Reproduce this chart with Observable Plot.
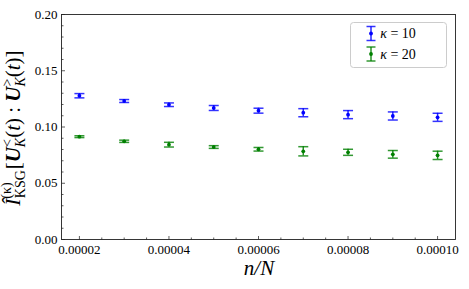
<!DOCTYPE html>
<html><head><meta charset="utf-8">
<script src="https://cdn.jsdelivr.net/npm/d3@7"></script>
<script src="https://cdn.jsdelivr.net/npm/@observablehq/plot@0.6"></script>
<style>
body{margin:0;background:#fff;}
</style></head><body><div id="chart"></div>
<script>
// ---- data ----
const ratios = [0.00002,0.00003,0.00004,0.00005,0.00006,0.00007,0.00008,0.00009,0.0001];
const mi10   = [0.1278,0.1231,0.1198,0.1169,0.1145,0.1127,0.1110,0.1098,0.1086];
const err10  = [0.0019,0.0013,0.0016,0.0022,0.0022,0.0036,0.0036,0.0036,0.0036];
const mi20   = [0.0914,0.0873,0.0843,0.0822,0.0802,0.0784,0.0775,0.0757,0.0748];
const err20  = [0.0008,0.0010,0.0021,0.0012,0.0016,0.0041,0.0027,0.0034,0.0037];
const kappas = ["10","20"];
const xTickValues = [0.00002,0.00004,0.00006,0.00008,0.0001];
const yTickValues = [0,0.05,0.10,0.15,0.20];
const xDomain = [0.000016,0.000104];
const yDomain = [0,0.2];

const xMinor = d3.range(0,17).map(i=>0.00002+i*0.000005);
const yMinor = d3.range(0,21).map(i=>i*0.01);

const rows = ratios.flatMap((r,i)=>[
  {x:r,y:mi10[i],e:err10[i],k:kappas[0]},
  {x:r,y:mi20[i],e:err20[i],k:kappas[1]}
]);

const FONT = "Liberation Serif";
const cap = {draw(ctx){ctx.moveTo(-5,0);ctx.lineTo(5,0);}};
const tickUp = (l)=>({draw(ctx){ctx.moveTo(0,0);ctx.lineTo(0,-l);}});
const tickRight = (l)=>({draw(ctx){ctx.moveTo(0,0);ctx.lineTo(l,0);}});

const chart = Plot.plot({
  width:469, height:289,
  marginLeft:61, marginRight:14, marginTop:14, marginBottom:50,
  style:{background:"white", color:"#000"},
  x:{domain:xDomain, axis:null},
  y:{domain:yDomain, axis:null},
  color:{domain:kappas, range:["blue","green"]},
  marks:[
    Plot.ruleX(rows,{x:"x",y1:d=>d.y-d.e,y2:d=>d.y+d.e,stroke:"k",strokeWidth:1.5,strokeOpacity:0.85}),
    Plot.dot(rows,{x:"x",y:d=>d.y-d.e,symbol:cap,r:1,stroke:"k",strokeWidth:1.5,strokeOpacity:0.8,fill:"none"}),
    Plot.dot(rows,{x:"x",y:d=>d.y+d.e,symbol:cap,r:1,stroke:"k",strokeWidth:1.5,strokeOpacity:0.8,fill:"none"}),
    Plot.dot(rows,{x:"x",y:"y",fill:"k",r:1.9,stroke:null}),
    // inward ticks
    Plot.dot(xMinor.filter(v=>!xTickValues.some(t=>Math.abs(t-v)<1e-9)),{x:d=>d,y:()=>yDomain[0],symbol:tickUp(2),r:1,stroke:"#333",strokeWidth:0.8}),
    Plot.dot(xTickValues,{x:d=>d,y:()=>yDomain[0],symbol:tickUp(3.5),r:1,stroke:"#333",strokeWidth:0.8}),
    Plot.dot(yMinor.filter(v=>!yTickValues.some(t=>Math.abs(t-v)<1e-9)),{x:()=>xDomain[0],y:d=>d,symbol:tickRight(2),r:1,stroke:"#333",strokeWidth:0.8}),
    Plot.dot(yTickValues,{x:()=>xDomain[0],y:d=>d,symbol:tickRight(3.5),r:1,stroke:"#333",strokeWidth:0.8}),
    Plot.axisX(xTickValues,{tickSize:0,tickPadding:5,tickFormat:d3.format(".5f"),label:null,fontSize:13,fontFamily:FONT}),
    Plot.axisY(yTickValues,{tickSize:0,tickPadding:4,tickFormat:d3.format(".2f"),label:null,fontSize:13,fontFamily:FONT}),
    Plot.frame({stroke:"#222",strokeWidth:0.9})
  ]
});
document.getElementById("chart").appendChild(chart);

const svg = d3.select(chart);
svg.attr("font-family",FONT);
svg.selectAll("text").attr("font-family",FONT);
const color = chart.scale("color");

// x label
svg.append("text").attr("x",259).attr("y",275).attr("text-anchor","middle").attr("font-family",FONT)
  .attr("font-size",21).attr("font-style","italic").attr("fill","#000").text("n/N");

// y label with sub/superscripts
function richText(parent, parts){
  let cur = 0;
  parts.forEach(p=>{
    const ts = parent.append("tspan").text(p.t);
    const target = p.shift||0;
    ts.attr("dy", target-cur); cur = target;
    if(p.size) ts.attr("font-size",p.size);
    if(p.italic) ts.attr("font-style","italic");
    if(p.bold) ts.attr("font-weight","bold");
    if(p.dx) ts.attr("dx",p.dx);
  });
}
const yl = svg.append("text").attr("transform","translate(20,128) rotate(-90)").attr("font-family",FONT)
  .attr("text-anchor","middle").attr("font-size",21).attr("fill","#000");
richText(yl,[
  {t:"Î",italic:true},
  {t:"(κ)",size:14,shift:-9},
  {t:"KSG",size:14,shift:5,dx:-16},
  {t:"[",shift:0,dx:1},
  {t:"U",italic:true,bold:true},
  {t:"<",size:14,shift:-8},
  {t:"K",size:14,italic:true,shift:5,dx:-8},
  {t:"(",shift:0},{t:"t",italic:true},{t:") : "},
  {t:"U",italic:true,bold:true},
  {t:">",size:14,shift:-8},
  {t:"K",size:14,italic:true,shift:5,dx:-8},
  {t:"(",shift:0},{t:"t",italic:true},{t:")]"}
]);

// legend
const lg = svg.append("g");
lg.append("rect").attr("x",350.5).attr("y",22.5).attr("width",96).attr("height",45).attr("rx",3)
  .attr("fill","white").attr("fill-opacity",0.8).attr("stroke","#ccc").attr("stroke-width",1);
kappas.forEach((k,i)=>{
  const cy = 33.5 + i*20.5, cx = 371, c = color.apply(k);
  const g = lg.append("g");
  g.append("line").attr("x1",cx).attr("x2",cx).attr("y1",cy-7).attr("y2",cy+7).attr("stroke",c).attr("stroke-width",1.5).attr("stroke-opacity",0.85);
  [-7,7].forEach(o=>g.append("line").attr("x1",cx-4.5).attr("x2",cx+4.5).attr("y1",cy+o).attr("y2",cy+o).attr("stroke",c).attr("stroke-width",1.5).attr("stroke-opacity",0.8));
  g.append("circle").attr("cx",cx).attr("cy",cy).attr("r",1.9).attr("fill",c);
  const t = g.append("text").attr("x",398).attr("y",cy+4.5).attr("font-family",FONT).attr("font-size",14).attr("fill","#000");
  t.append("tspan").attr("font-style","italic").text("κ");
  t.append("tspan").text(" = "+k);
});
</script></body></html>
